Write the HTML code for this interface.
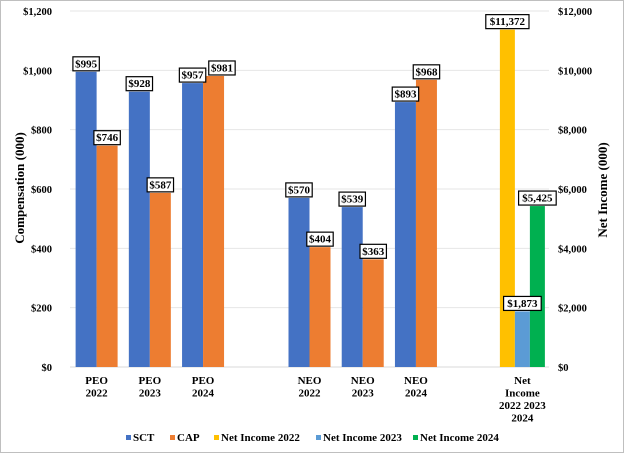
<!DOCTYPE html>
<html><head><meta charset="utf-8"><style>
html,body{margin:0;padding:0;background:#fff;}
svg{display:block;font-family:"Liberation Serif",serif;font-weight:bold;}
</style></head><body>
<svg id="chart" width="624" height="453" viewBox="0 0 624 453" xmlns="http://www.w3.org/2000/svg">
<rect x="0.5" y="0.5" width="623" height="452" fill="#fff" stroke="#bfbfbf"/>
<g id="grid"></g><g id="bars"></g><g id="labels"></g><g id="axes"></g>
<text transform="translate(24,188) rotate(-90)" text-anchor="middle" font-size="13" fill="#000">Compensation (000)</text>
<text transform="translate(607,190) rotate(-90)" text-anchor="middle" font-size="13" fill="#000">Net Income (000)</text>
<g id="legend"></g>
</svg>
<script>
const categories=["PEO|2022","PEO|2023","PEO|2024","","NEO|2022","NEO|2023","NEO|2024","","Net|Income|2022  2023|2024"];
const sctValues=[995,928,957,null,570,539,893,null,null];
const capValues=[746,587,981,null,404,363,968,null,null];
const netIncomeValues=[11372,1873,5425];
const leftTicks=[0,200,400,600,800,1000,1200];
const rightTicks=[0,2000,4000,6000,8000,10000,12000];
const legendLabels=["SCT","CAP","Net Income 2022","Net Income 2023","Net Income 2024"];
const colors=["#4472C4","#ED7D31","#FFC000","#5B9BD5","#00B050"];

const NS="http://www.w3.org/2000/svg";
const X0=70,X1=549,Y0=367,Y1=11;
const yL=v=>Y0-(v/1200)*(Y0-Y1);
const yR=v=>Y0-(v/12000)*(Y0-Y1);
const slotW=(X1-X0)/categories.length;
const xC=i=>X0+slotW*(i+0.5);
function mk(tag,attrs,parent){const e=document.createElementNS(NS,tag);for(const k in attrs)e.setAttribute(k,attrs[k]);parent.appendChild(e);return e;}
const grid=document.getElementById('grid'),bars=document.getElementById('bars'),labels=document.getElementById('labels'),axes=document.getElementById('axes'),legend=document.getElementById('legend');
const fmt=v=>'$'+v.toLocaleString('en-US');
leftTicks.forEach((t,i)=>{
  const y=yL(t);
  const l=mk('line',{x1:X0,x2:X1,y1:y,y2:y,stroke:t===0?'#d9d9d9':'#e6e6e6','stroke-width':1},grid);
  
  
  const tx=mk('text',{x:X0-18,y:y+4,'text-anchor':'end','font-size':10.5},axes);
  tx.textContent=fmt(t);
  
  
});
rightTicks.forEach(t=>{
  const tx=mk('text',{x:X1+9,y:yR(t)+4,'text-anchor':'start','font-size':10.5},axes);
  tx.textContent=fmt(t);
  
  
});
const lw=text=>text.length*5.6+4;
function label(cx,ytop,text){
  const w=lw(text),h=14;
  const g=mk('g',{},labels);
  
  
  mk('rect',{x:cx-w/2,y:ytop-h-1,width:w,height:h,fill:'#fff',stroke:'#000','stroke-width':1.2},g);
  const t=mk('text',{x:cx,y:ytop-4.5,'text-anchor':'middle','font-size':11},g);
  t.textContent=text;
}
const bw=21;
categories.forEach((c,i)=>{
  const cx=xC(i);
  let sctRight=null, sctY=null;
  if(sctValues[i]!=null){
    const r=mk('rect',{x:cx-bw,y:yL(sctValues[i]),width:bw,height:Y0-yL(sctValues[i]),fill:colors[0]},bars);
    
    
    const s=fmt(sctValues[i]);
    label(cx-bw/2,yL(sctValues[i]),s);
    sctRight=cx-bw/2+lw(s)/2; sctY=yL(sctValues[i]);
  }
  if(capValues[i]!=null){
    const r=mk('rect',{x:cx,y:yL(capValues[i]),width:bw,height:Y0-yL(capValues[i]),fill:colors[1]},bars);
    
    
    const s=fmt(capValues[i]);
    let lx=cx+bw/2;
    const cy=yL(capValues[i]);
    if(sctRight!=null && Math.abs(cy-sctY)<15 && lx-lw(s)/2<sctRight+3) lx=sctRight+3+lw(s)/2;
    label(lx,cy,s);
  }
  if(c){
    c.split('|').forEach((ln,k)=>{
      const t=mk('text',{x:cx,y:384+k*12.5,'text-anchor':'middle','font-size':11},axes);
      t.textContent=ln;
      t.setAttribute('xml:space','preserve');
      
      
    });
  }
});
const niW=15, niC=xC(8);
netIncomeValues.forEach((v,k)=>{
  const x=niC-22.5+k*niW;
  const r=mk('rect',{x:x,y:yR(v),width:niW,height:Y0-yR(v),fill:colors[2+k]},bars);
  
  
  label(x+niW/2,yR(v),fmt(v));
});
const lx=[126,170,214,316,413];
legendLabels.forEach((s,i)=>{
  const g=mk('g',{},legend);
  
  
  mk('rect',{x:lx[i],y:435,width:5,height:5,fill:colors[i]},g);
  const t=mk('text',{x:lx[i]+7,y:441,'font-size':11},g);
  t.textContent=s;
});
</script>
</body></html>
